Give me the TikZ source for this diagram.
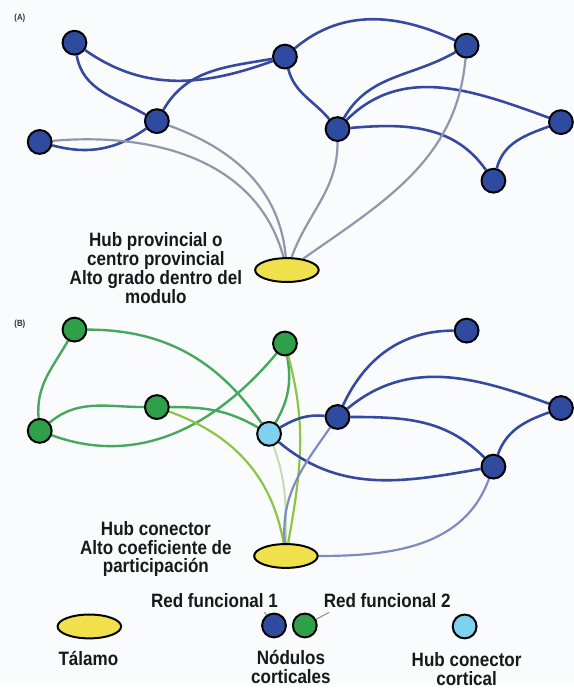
\documentclass[tikz,border=0pt]{standalone}
\usepackage{fontspec}
\setmainfont{Liberation Sans}[FakeStretch=0.88]
\usetikzlibrary{shapes.geometric,backgrounds}
\definecolor{nodeblue}{HTML}{2E4BA0}
\definecolor{nodegreen}{HTML}{2FA04A}
\definecolor{hubblue}{HTML}{80D0F0}
\definecolor{thalyellow}{HTML}{F0E14C}
\definecolor{linkblue}{HTML}{3649A0}
\definecolor{linkgray}{HTML}{8E98AA}
\definecolor{linkgreen}{HTML}{45A85C}
\definecolor{linklime}{HTML}{8DC446}
\definecolor{linkpale}{HTML}{C3DDB0}
\definecolor{linksoft}{HTML}{7F8BC0}
\definecolor{paper}{HTML}{FAFBFC}

\begin{document}
\begin{tikzpicture}[x=1pt, y=1pt,
  nod/.style={circle, draw=black, line width=2pt, minimum size=24pt, inner sep=0pt},
  red1/.style={nod, fill=nodeblue},
  red2/.style={nod, fill=nodegreen},
  conhub/.style={nod, fill=hubblue},
  thal/.style={ellipse, draw=black, line width=2pt, fill=thalyellow,
               minimum width=64pt, minimum height=24pt, inner sep=0pt},
  lbl/.style={font=\bfseries\fontsize{19.5}{19}\selectfont, align=center, text=black!90},
  tag/.style={font=\bfseries\fontsize{9}{10}\selectfont, text=black!80},
  bl/.style={line width=2.6pt, draw=linkblue},
  gr/.style={line width=2.2pt, draw=linkgray},
  gn/.style={line width=2.4pt, draw=linkgreen},
  lm/.style={line width=2.2pt, draw=linklime},
  pl/.style={line width=2pt, draw=linkpale},
  sf/.style={line width=2.2pt, draw=linksoft},
]
  % panel A
  \node[tag] (tagA) at (20,-18) {(A)};
  \node[red1] (a1) at (75,-43) {};
  \node[red1] (a2) at (158,-122) {};
  \node[red1] (a3) at (40,-143) {};
  \node[red1] (a4) at (287,-57) {};
  \node[red1] (a5) at (470,-46) {};
  \node[red1] (a6) at (340,-130) {};
  \node[red1] (a7) at (565,-123) {};
  \node[red1] (a8) at (497,-182) {};
  \node[thal] (ta) at (289,-272) {};
  \node[lbl] (txtA) at (157,-270) {Hub provincial o\\centro provincial\\Alto grado dentro del\\modulo};

  % panel B
  \node[tag] (tagB) at (20,-327) {(B)};
  \node[red2] (b1) at (75,-332) {};
  \node[red2] (b2) at (287,-346) {};
  \node[red2] (b3) at (158,-410) {};
  \node[red2] (b4) at (40,-434) {};
  \node[conhub] (b5) at (271,-437) {};
  \node[red1] (b6) at (340,-420) {};
  \node[red1] (b7) at (470,-333) {};
  \node[red1] (b8) at (565,-411) {};
  \node[red1] (b9) at (497,-470) {};
  \node[thal] (tb) at (288,-560) {};
  \node[lbl] (txtB) at (157,-553) {Hub conector\\Alto coeficiente de\\participación};

  % legend
  \node[thal] (legT) at (90,-631) {};
  \node[lbl] (legTtxt) at (89,-663) {Tálamo};
  \node[red1] (legB) at (276,-630) {};
  \node[red2] (legG) at (307,-630) {};
  \node[lbl] (rf1) at (216,-605) {Red funcional 1};
  \node[lbl] (rf2) at (390,-605) {Red funcional 2};
  \node[lbl] (legNtxt) at (293,-672) {Nódulos\\corticales};
  \node[conhub] (legH) at (468,-631) {};
  \node[lbl] (legHtxt) at (470,-674) {Hub conector\\cortical};

  \begin{pgfonlayer}{background}
    \fill[paper] (0,0) rectangle (578,-689);
    % A links
    \draw[bl] (a1) to[out=-35, in=200] (a4);
    \draw[bl] (a1) to[out=-80, in=150] (a2);
    \draw[bl] (a2) to[out=60, in=190] (a4);
    \draw[bl] (a3) to[out=-15, in=215] (a2);
    \draw[bl] (a4) to[out=40, in=155] (a5);
    \draw[bl] (a4) to[out=-75, in=130] (a6);
    \draw[bl] (a6) to[out=60, in=210] (a5);
    \draw[bl] (a6) to[out=45, in=160] (a7);
    \draw[bl] (a6) to[out=5, in=125] (a8);
    \draw[bl] (a8) to[out=75, in=200] (a7);
    \draw[gr] (a3) to[out=5, in=105] (ta);
    \draw[gr] (a2) to[out=-20, in=95] (ta);
    \draw[gr] (a6) to[out=-90, in=70] (ta);
    \draw[gr] (a5) to[out=-95, in=35] (ta);
    % B links
    \draw[gn] (b1) to[out=-120, in=95] (b4);
    \draw[gn] (b1) to[out=0, in=125] (b5);
    \draw[gn] (b4) to[out=40, in=180] (b3);
    \draw[gn] (b4) to[out=-20, in=-130] (b2);
    \draw[gn] (b3) to[out=0, in=150] (b5);
    \draw[gn] (b2) to[out=-80, in=60] (b5);
    \draw[lm] (b3) to[out=-20, in=100] (tb);
    \draw[lm] (b2) to[out=-75, in=80] (tb);
    \draw[pl] (b5) to[out=-70, in=90] (tb);
    \draw[bl] (b6) to[out=65, in=180] (b7);
    \draw[bl] (b6) to[out=40, in=160] (b8);
    \draw[bl] (b6) to[out=0, in=135] (b9);
    \draw[bl] (b9) to[out=70, in=200] (b8);
    \draw[bl] (b5) to[out=30, in=175] (b6);
    \draw[bl] (b5) to[out=-40, in=190] (b9);
    \draw[sf] (b6) to[out=-125, in=95] (tb);
    \draw[sf] (b9) to[out=-110, in=0] (tb);
    % legend pointers
    \draw[line width=1pt, draw=black!45] (rf1.south east) ++(-17,-1) coordinate (p1) (p1) -- (legB);
    \draw[line width=1pt, draw=black!45] (rf2.south west) ++(9,-1) coordinate (p2) (p2) -- (legG);
  \end{pgfonlayer}
\end{tikzpicture}
\end{document}
